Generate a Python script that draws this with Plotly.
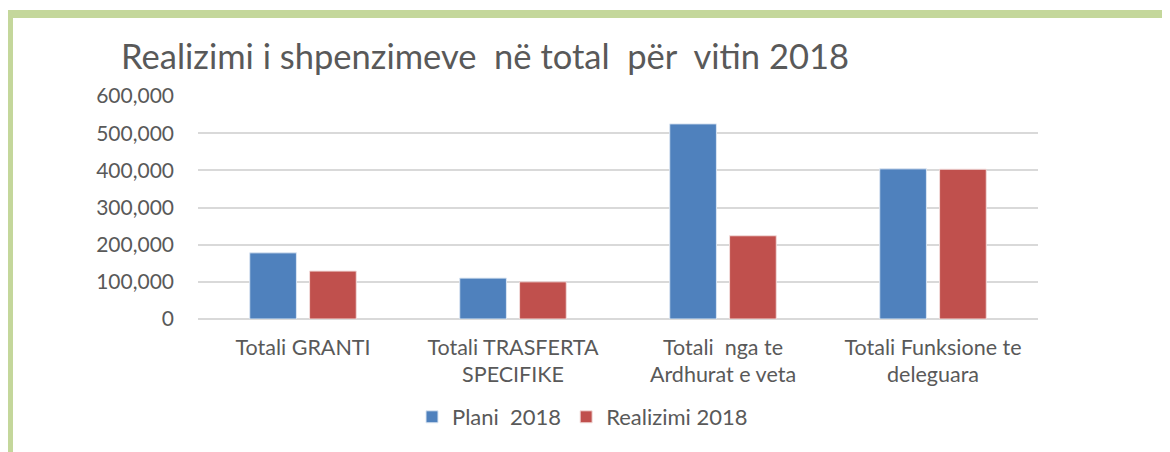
import plotly.graph_objects as go

categories = ["Totali GRANTI", "Totali TRASFERTA<br>SPECIFIKE", "Totali  nga te<br>Ardhurat e veta", "Totali Funksione te<br>deleguara"]
plani_2018 = [178000, 110000, 525000, 404000]
realizimi_2018 = [129000, 100000, 224000, 403000]
series_names = ["Plani  2018", "Realizimi 2018"]
tick_vals = [0, 100000, 200000, 300000, 400000, 500000, 600000]
tick_text = ["0", "100,000", "200,000", "300,000", "400,000", "500,000", "600,000"]

FONT = "Lato, 'Noto Sans', sans-serif"
TXT = "#595959"

# page is offset by the 8px body margin
OFF = 8
W, H = 1170 - OFF, 452 - OFF
L, R, T, B = 198 - OFF, 1038 - OFF, 96 - OFF, 319 - OFF
PW, PH = R - L, B - T

def px(xp):
    return (xp - OFF - L) / PW

def py(yp):
    return (B - (yp - OFF)) / PH

fig = go.Figure()
fig.add_trace(go.Bar(x=categories, y=plani_2018, name=series_names[0],
                     marker=dict(color="#4f81bd", line=dict(color="#dce6f2", width=1))))
fig.add_trace(go.Bar(x=categories, y=realizimi_2018, name=series_names[1],
                     marker=dict(color="#c0504d", line=dict(color="#f2dcdb", width=1))))

fig.update_layout(
    width=W, height=H,
    margin=dict(l=L, r=W - R, t=T, b=H - B, pad=0),
    paper_bgcolor="white", plot_bgcolor="white",
    font=dict(family=FONT, color=TXT, size=21),
    barmode="group", bargap=0.43, bargroupgap=0.22,
    title=dict(text="Realizimi i shpenzimeve  në total  për  vitin 2018",
               x=(485 - OFF) / W, xanchor="center", xref="container",
               y=1 - (57 - OFF) / H, yanchor="middle", yref="container",
               font=dict(family=FONT, size=34.5, color=TXT)),
    legend=dict(orientation="h", x=px(412), xanchor="left",
                y=py(417), yanchor="middle",
                font=dict(family=FONT, size=22, color=TXT),
                itemwidth=30, tracegroupgap=0),
    showlegend=True,
)
fig.update_yaxes(range=[0, 600000], tickvals=tick_vals, ticktext=tick_text,
                 showgrid=True, gridcolor="#d9d9d9", gridwidth=1.5,
                 zeroline=True, zerolinecolor="#d9d9d9", zerolinewidth=1.5,
                 showline=False, ticklabelstandoff=23,
                 tickfont=dict(family=FONT, size=21, color=TXT))
fig.update_xaxes(showline=False, showgrid=False, ticks="",
                 ticklabelstandoff=13,
                 tickfont=dict(family=FONT, size=21.5, color=TXT))

# green frame (top and left edges)
fig.add_shape(type="line", xref="paper", yref="paper",
              x0=px(5), x1=px(1180), y0=py(14), y1=py(14),
              line=dict(color="#c4d79b", width=8))
fig.add_shape(type="line", xref="paper", yref="paper",
              x0=px(9), x1=px(9), y0=py(10), y1=py(470),
              line=dict(color="#c4d79b", width=8))

fig.write_html("out.html")
